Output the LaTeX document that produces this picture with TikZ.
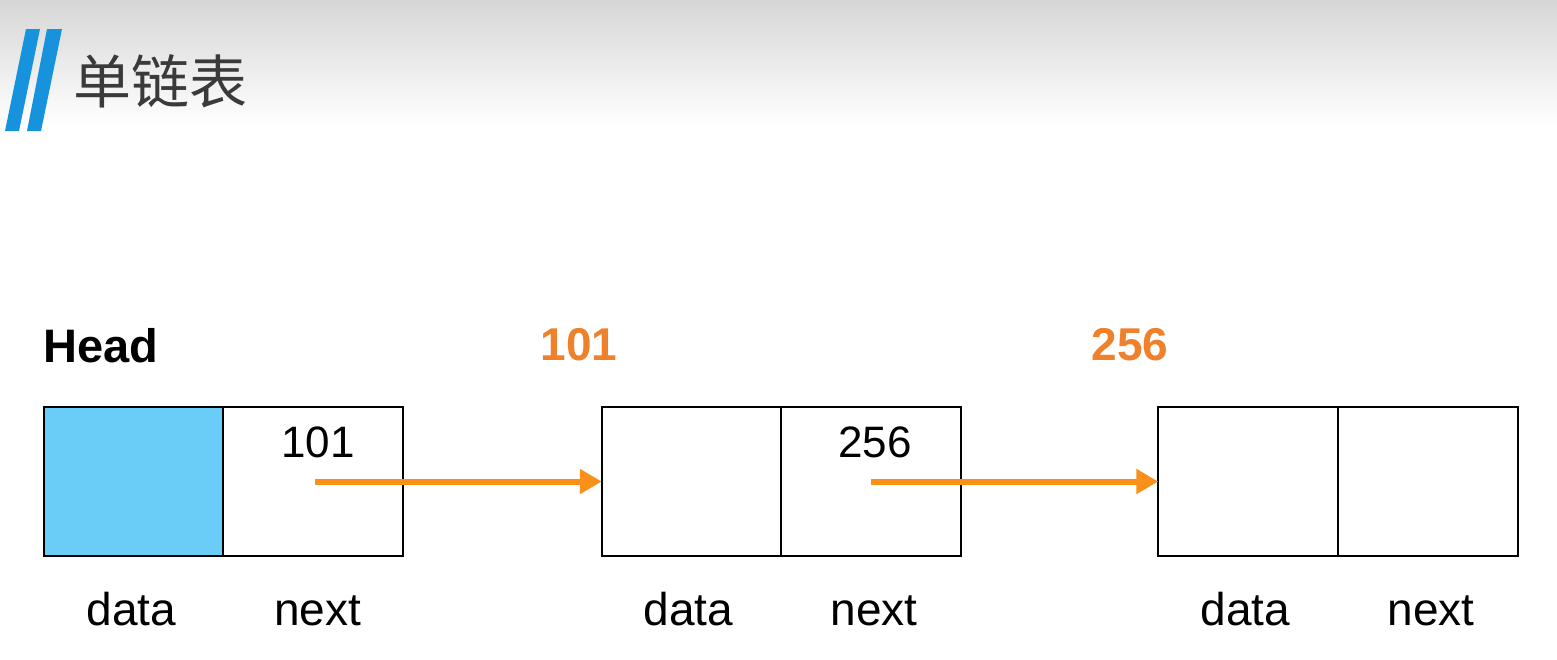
\documentclass[tikz,border=0pt]{standalone}
\usepackage{fontspec}
\setmainfont{Liberation Sans}
\newfontfamily\cjk{Noto Sans CJK SC}
\usetikzlibrary{arrows.meta}
\definecolor{barblue}{HTML}{1792DD}
\definecolor{headfill}{HTML}{69CDF8}
\definecolor{addrorange}{HTML}{F0812C}
\definecolor{arroworange}{HTML}{F8901A}
\definecolor{titlegray}{HTML}{3A3A3A}
\definecolor{topgray}{HTML}{D6D6D6}
\tikzset{
  cell/.style={draw=black, line width=2pt, minimum width=179.5pt, minimum height=149pt, inner sep=0pt, outer sep=0pt},
  lbl/.style={font=\fontsize{46}{50}\selectfont, anchor=base, inner sep=0pt},
  addr/.style={font=\fontsize{44}{48}\selectfont, anchor=base, inner sep=0pt},
  toplbl/.style={font=\fontsize{46}{50}\selectfont\bfseries, text=addrorange, anchor=base, inner sep=0pt},
  ptr/.style={draw=arroworange, line width=6pt, -{Triangle[length=22pt,width=24pt]}},
}
\begin{document}
\begin{tikzpicture}[x=1pt,y=-1pt]
\useasboundingbox (0,0) rectangle (1557,659);
\fill[white] (0,0) rectangle (1557,659);
\shade[top color=topgray, bottom color=white] (0,0) rectangle (1557,125);
\fill[barblue] (26,29) -- (40,29) -- (19,131) -- (5,131) -- cycle;
\fill[barblue] (47,29) -- (62,29) -- (41,131) -- (27,131) -- cycle;
\node[anchor=base west, inner sep=0pt, text=titlegray, font=\cjk\fontsize{58}{62}\selectfont] (title) at (73,103) {单链表};

\node[anchor=base west, inner sep=0pt, font=\fontsize{47}{50}\selectfont\bfseries] (head) at (43.5,362) {Head};
\node[toplbl] (a101) at (579,360) {101};
\node[toplbl] (a256) at (1130,360) {256};

\node[cell, fill=headfill] (d1) at (133.5,481.5) {};
\node[cell] (n1) at (313,481.5) {};
\node[cell] (d2) at (691.5,481.5) {};
\node[cell] (n2) at (871,481.5) {};
\node[cell] (d3) at (1248,481.5) {};
\node[cell] (n3) at (1428,481.5) {};

\node[addr] (v1) at (318,457) {101};
\node[addr] (v2) at (875,457) {256};

\node[lbl] (ld1) at (131.5,625) {data};
\node[lbl] (ln1) at (317.5,625) {next};
\node[lbl] (ld2) at (688.5,625) {data};
\node[lbl] (ln2) at (874,625) {next};
\node[lbl] (ld3) at (1245.5,625) {data};
\node[lbl] (ln3) at (1431,625) {next};

\coordinate (s1) at ([xshift=2pt]n1.center);
\coordinate (s2) at (n2.center);
\draw[ptr] (s1) -- (d2.west);
\draw[ptr] (s2) -- (d3.west);
\end{tikzpicture}
\end{document}
